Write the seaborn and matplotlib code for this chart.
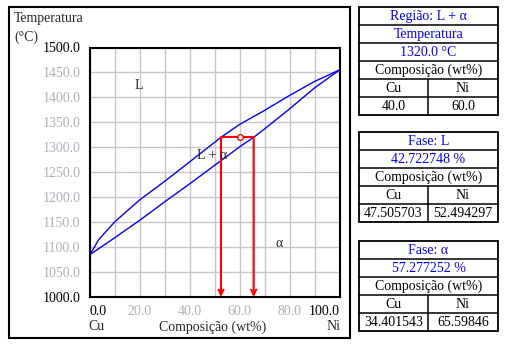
import matplotlib
matplotlib.use("Agg")
import matplotlib.pyplot as plt
import seaborn as sns
import pandas as pd
from matplotlib.patches import Rectangle

# ---- data ----
liq_x = [0, 3.5, 10, 20, 30, 40, 52.494297, 60, 70, 80, 90, 100]
liq_T = [1085, 1115, 1151, 1195, 1232, 1271, 1320, 1346, 1374, 1404, 1432, 1455]
sol_x = [0, 10, 20, 30, 40, 50, 60, 65.59846, 70, 80, 90, 100]
sol_T = [1085, 1119, 1154, 1191, 1227, 1264, 1301, 1320, 1337, 1377, 1419, 1455]
T_sel = 1320.0
C0 = 60.0
C_L = 52.494297
C_alpha = 65.59846
x_ticks = [0, 20, 40, 60, 80, 100]
x_ticklabels = ["0.0", "20.0", "40.0", "60.0", "80.0", "100.0"]
y_ticks = [1000, 1050, 1100, 1150, 1200, 1250, 1300, 1350, 1400, 1450, 1500]
y_ticklabels = ["1000.0", "1050.0", "1100.0", "1150.0", "1200.0", "1250.0",
                "1300.0", "1350.0", "1400.0", "1450.0", "1500.0"]
region_labels = ["L", "L + α", "α"]
region_pos = [(19.6, 1424), (48.8, 1284), (76, 1108)]

table1 = ["Região: L + α", "Temperatura", "1320.0 °C", "Composição (wt%)"]
table1_cols = ["Cu", "Ni"]
table1_vals = ["40.0", "60.0"]
table2 = ["Fase: L", "42.722748 %", "Composição (wt%)"]
table2_vals = ["47.505703", "52.494297"]
table3 = ["Fase: α", "57.277252 %", "Composição (wt%)"]
table3_vals = ["34.401543", "65.59846"]

sns.set_theme(style="white")
plt.rcParams["font.family"] = ["Liberation Serif", "DejaVu Serif"]
FS = 10
GREY = "#b4adbb"
GRID = "#cbc4cf"

W, H = 514, 347
fig = plt.figure(figsize=(W / 100, H / 100), dpi=100)
fig.patch.set_facecolor("white")

# main axes in pixel layout
l, r, t, b = 90, 339.5, 47.5, 297
ax = fig.add_axes([l / W, (H - b) / H, (r - l) / W, (b - t) / H])

liq = pd.DataFrame({"x": liq_x, "T": liq_T})
sol = pd.DataFrame({"x": sol_x, "T": sol_T})
sns.lineplot(data=liq, x="x", y="T", color="#0000ff", lw=1, sort=False, ax=ax)
sns.lineplot(data=sol, x="x", y="T", color="#0000ff", lw=1, sort=False, ax=ax)

ax.set_xlim(0, 100)
ax.set_ylim(1000, 1500)
ax.set_xlabel("")
ax.set_ylabel("")
ax.set_xticks(x_ticks)
ax.set_xticks([10, 30, 50, 70, 90], minor=True)
ax.set_xticklabels(x_ticklabels, fontsize=FS)
ax.set_yticks(y_ticks)
ax.set_yticklabels(y_ticklabels, fontsize=FS)
ax.grid(True, which="both", color=GRID, lw=1)
ax.set_axisbelow(True)
ax.tick_params(axis="x", which="both", length=0, pad=6)
ax.tick_params(axis="y", length=4, color=GRID, width=1, pad=3)
for i, lab in enumerate(ax.get_xticklabels()):
    lab.set_color("black" if i in (0, len(x_ticks) - 1) else GREY)
xl = ax.get_xticklabels()
xl[0].set_ha("left")
xl[-1].set_ha("right")
for i, lab in enumerate(ax.get_yticklabels()):
    lab.set_color("black" if i in (0, len(y_ticks) - 1) else GREY)
for s in ax.spines.values():
    s.set_color("black")
    s.set_linewidth(1.5)

# tie line, arrows, circle
ax.plot([C_L, C_alpha], [T_sel, T_sel], color="red", lw=1.5)
for cx in (C_L, C_alpha):
    ax.annotate("", xy=(cx, 1000), xytext=(cx, T_sel),
                arrowprops=dict(arrowstyle="->", color="red", lw=1.5,
                                shrinkA=0, shrinkB=0, mutation_scale=9),
                annotation_clip=False)
ax.plot([C0], [T_sel], "o", mfc="white", mec="red", ms=4, mew=1)

for lab, (px, py) in zip(region_labels, region_pos):
    ax.text(px, py, lab, ha="center", va="center", fontsize=FS)

# overlay in pixel coords
ov = fig.add_axes([0, 0, 1, 1], zorder=-1)
ov.set_xlim(0, W)
ov.set_ylim(H, 0)
ov.axis("off")
ov.add_patch(Rectangle((9, 7), 341, 331, fill=False, ec="black", lw=1.5))

ov2 = fig.add_axes([0, 0, 1, 1], zorder=5)
ov2.set_xlim(0, W)
ov2.set_ylim(H, 0)
ov2.axis("off")
ov2.patch.set_alpha(0)
ov2.text(14, 18, "Temperatura", ha="left", va="center", fontsize=FS)
ov2.text(14, 37, "(°C)", ha="left", va="center", fontsize=FS)
ov2.text(213, 327, "Composição (wt%)", ha="center", va="center", fontsize=FS)
ov2.text(88, 327, "Cu", ha="left", va="center", fontsize=FS)
ov2.text(341, 327, "Ni", ha="right", va="center", fontsize=FS)


def draw_table(top, headers, n_blue, cols, vals):
    x0, x1, xm, rh = 359, 498, 428, 18
    rows = len(headers) + (1 if cols else 0) + 1
    ov2.add_patch(Rectangle((x0, top), x1 - x0, rows * rh, fill=False,
                            ec="black", lw=1.3))
    y = top
    for i, h in enumerate(headers):
        ov2.text((x0 + x1) / 2, y + rh / 2 + 0.5, h, ha="center", va="center",
                 fontsize=FS, color="#0000ff" if i < n_blue else "black")
        y += rh
        ov2.plot([x0, x1], [y, y], color="black", lw=1.1)
    rest = ([cols] if cols else []) + [vals]
    for j, pair in enumerate(rest):
        for k, txt in enumerate(pair):
            cx = (x0 + xm) / 2 if k == 0 else (xm + x1) / 2
            ov2.text(cx, y + rh / 2 + 0.5, txt, ha="center", va="center",
                     fontsize=FS, color="black")
        ov2.plot([xm, xm], [y, y + rh], color="black", lw=1.1)
        y += rh
        if j < len(rest) - 1:
            ov2.plot([x0, x1], [y, y], color="black", lw=1.1)


draw_table(7, table1, 3, table1_cols, table1_vals)
draw_table(132, table2, 2, table1_cols, table2_vals)
draw_table(241, table3, 2, table1_cols, table3_vals)

fig.savefig("out.png", dpi=100, facecolor="white")
